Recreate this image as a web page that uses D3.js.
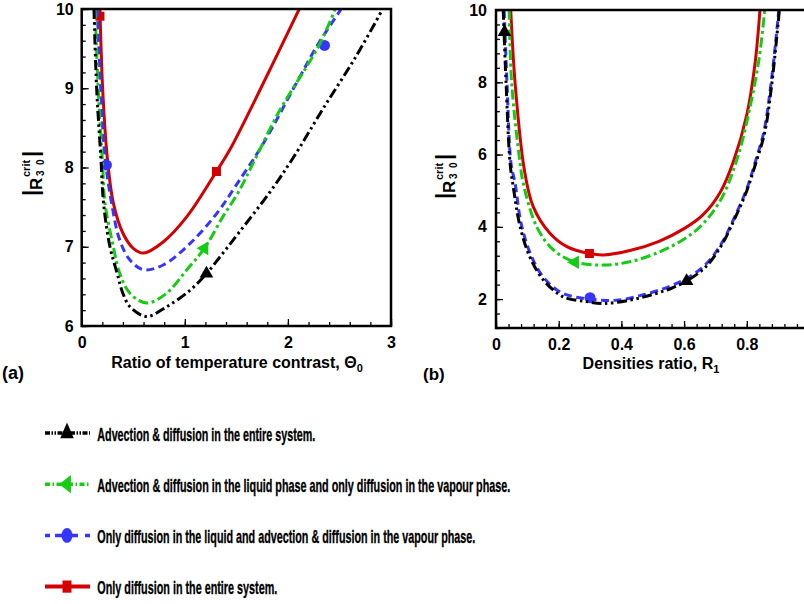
<!DOCTYPE html>
<html>
<head>
<meta charset="utf-8">
<script src="https://cdnjs.cloudflare.com/ajax/libs/d3/7.8.5/d3.min.js"></script>
<style>
  body { margin: 0; background: #fff; }
  svg { display: block; font-family: "Liberation Sans", Arial, sans-serif; font-weight: bold; }
  .leg text { font-family: "Liberation Sans Narrow", "Arial Narrow", "Liberation Sans", sans-serif; }
</style>
</head>
<body>
<div id="main"></div>
<script>

// ---- panel (a): |R30 crit| against theta0 ----
var blackA = [[0.119,10],[0.145,9.0],[0.187,8.1],[0.212,7.55],[0.274,7.0],[0.345,6.66],[0.40,6.41],[0.47,6.24],[0.63,6.12],[0.82,6.24],[1.05,6.45],[1.21,6.66],[1.37,6.92],[1.52,7.17],[1.82,7.68],[2.05,8.12],[2.34,8.74],[2.66,9.4],[2.92,10]];
var greenA = [[0.129,10],[0.16,9.0],[0.203,8.03],[0.226,7.55],[0.307,7.0],[0.37,6.66],[0.47,6.41],[0.63,6.29],[0.82,6.41],[1.02,6.71],[1.19,6.98],[1.37,7.38],[1.52,7.69],[1.68,8.1],[1.92,8.72],[2.18,9.27],[2.31,9.56],[2.46,10]];
var blueA = [[0.151,10],[0.184,9.0],[0.226,8.13],[0.29,7.55],[0.37,7.08],[0.47,6.83],[0.60,6.71],[0.79,6.77],[1.05,7.04],[1.31,7.42],[1.50,7.78],[1.76,8.30],[2.08,9.06],[2.29,9.55],[2.517,10]];
var redA = [[0.177,10],[0.203,9.0],[0.25,8.1],[0.307,7.55],[0.40,7.17],[0.50,6.98],[0.60,6.92],[0.79,7.06],[1.02,7.38],[1.307,7.95],[1.435,8.22],[1.76,9.06],[2.11,10]];

var blackMarksA = [[1.21,6.66]];
var greenMarksA = [[1.19,6.98]];
var blueMarksA = [[0.24,8.03],[2.355,9.54]];
var redMarksA = [[0.177,9.91],[1.307,7.95]];

// ---- panel (b): |R30 crit| against R1 ----
var blackB = [[0.023,10],[0.032,8.0],[0.045,5.75],[0.055,5.11],[0.077,4.0],[0.108,3.17],[0.151,2.53],[0.215,2.06],[0.289,1.93],[0.342,1.88],[0.427,1.97],[0.50,2.13],[0.56,2.3],[0.608,2.5],[0.67,2.9],[0.72,3.5],[0.76,4.2],[0.80,5.0],[0.83,5.8],[0.857,6.6],[0.879,7.9],[0.895,9.2],[0.904,10]];
var greenB = [[0.042,10],[0.05,7.97],[0.077,5.75],[0.087,5.2],[0.13,4.0],[0.183,3.36],[0.252,3.03],[0.342,2.94],[0.43,3.04],[0.52,3.3],[0.60,3.66],[0.66,4.08],[0.72,4.8],[0.77,5.9],[0.81,7.3],[0.84,8.7],[0.857,10]];
var blueB = [[0.026,10],[0.035,8.0],[0.048,5.75],[0.061,5.2],[0.08,4.1],[0.11,3.25],[0.15,2.62],[0.21,2.17],[0.30,2.0],[0.385,1.97],[0.47,2.12],[0.55,2.34],[0.61,2.58],[0.67,2.97],[0.72,3.55],[0.76,4.25],[0.80,5.05],[0.829,5.85],[0.855,6.65],[0.877,7.95],[0.893,9.2],[0.902,10]];
var redB = [[0.047,10],[0.061,7.97],[0.09,5.6],[0.119,4.55],[0.172,3.82],[0.226,3.45],[0.298,3.26],[0.342,3.22],[0.43,3.35],[0.52,3.6],[0.60,3.95],[0.66,4.33],[0.715,4.95],[0.757,5.8],[0.80,7.1],[0.826,8.5],[0.842,10]];

var blackMarksB = [[0.027,9.39],[0.608,2.5]];
var greenMarksB = [[0.252,3.02]];
var blueMarksB = [[0.30,2.04]];
var redMarksB = [[0.298,3.26]];

// tick values
var xTicksA = [0, 1, 2, 3];
var yTicksA = [6, 7, 8, 9, 10];
var xTicksB = [0, 0.2, 0.4, 0.6, 0.8, 1];
var yTicksB = [2, 4, 6, 8, 10];

var legendLabels = [
  "Advection & diffusion in the entire system.",
  "Advection & diffusion in the liquid phase and only diffusion in the vapour phase.",
  "Only diffusion in the liquid and advection & diffusion in the vapour phase.",
  "Only diffusion in the entire system."
];
var legendKeys = ["black", "green", "blue", "red"];

// styles live here, not in the data
var styles = {
  black: {color: "#000000", dash: "10,3.5,2.5,3.5,2.5,3.5", legDash: "5,1.5,1.5,1.5,1.5,1.5", sym: d3.symbolTriangle, size: 80, rot: 0},
  green: {color: "#14cc14", dash: "10,3.5,3,3.5", legDash: "5,2.5,1.5,2.5", sym: d3.symbolTriangle, size: 80, rot: -90},
  blue:  {color: "#3535ff", dash: "8,4.5", legDash: "5,5,23,7,5", sym: d3.symbolCircle, size: 95, rot: 0},
  red:   {color: "#d40000", dash: null, legDash: null, sym: d3.symbolSquare, size: 81, rot: 0}
};

var w = 804;
var h = 604;

var svg = d3.select("#main").append("svg")
    .attr("width", w)
    .attr("height", h);

svg.append("rect").attr("width", w).attr("height", h).attr("fill", "#fff");

var fmt = function(d) { return String(+d.toFixed(2)); };

function drawPanel(p) {
  var x = d3.scaleLinear().domain(p.xDomain).range(p.xRange);
  var y = d3.scaleLinear().domain(p.yDomain).range(p.yRange);

  svg.append("clipPath").attr("id", "clip" + p.id)
    .append("rect")
      .attr("x", p.xRange[0]).attr("y", p.yRange[1])
      .attr("width", p.xRange[1] - p.xRange[0])
      .attr("height", p.yRange[0] - p.yRange[1]);

  // minor ticks (inward)
  svg.append("g")
      .attr("transform", "translate(0," + p.yRange[0] + ")")
      .call(d3.axisBottom(x).tickValues(p.xMinor).tickSize(-4).tickFormat(""))
      .call(function(g) { g.select(".domain").remove(); });
  svg.append("g")
      .attr("transform", "translate(" + p.xRange[0] + ",0)")
      .call(d3.axisLeft(y).tickValues(p.yMinor).tickSize(-4).tickFormat(""))
      .call(function(g) { g.select(".domain").remove(); });

  // major ticks + labels
  var xa = svg.append("g")
      .attr("transform", "translate(0," + p.yRange[0] + ")")
      .call(d3.axisBottom(x).tickValues(p.xTicks).tickSize(-7).tickPadding(11).tickFormat(fmt));
  var ya = svg.append("g")
      .attr("transform", "translate(" + p.xRange[0] + ",0)")
      .call(d3.axisLeft(y).tickValues(p.yTicks).tickSize(-7).tickPadding(p.yPad).tickFormat(fmt));
  [xa, ya].forEach(function(a) {
    a.select(".domain").remove();
    a.attr("font-family", null).attr("font-size", null);
    a.selectAll("text").style("font-size", "16px").attr("fill", "#000");
  });
  svg.selectAll(".tick line").attr("stroke", "#000").attr("stroke-width", 1.3);

  // centripetal catmull-rom keeps the steep branches smooth
  var line = d3.line()
      .x(function(d) { return x(d[0]); })
      .y(function(d) { return y(d[1]); })
      .curve(d3.curveCatmullRom.alpha(0.5));

  var plot = svg.append("g").attr("clip-path", "url(#clip" + p.id + ")");

  p.series.forEach(function(s) {
    var st = styles[s.key];
    plot.append("path")
        .datum(s.data)
        .attr("d", line)
        .attr("fill", "none")
        .attr("stroke", st.color)
        .attr("stroke-width", 3)
        .attr("stroke-dasharray", st.dash);
    plot.selectAll(null)
        .data(s.marks)
        .enter()
        .append("path")
        .attr("d", d3.symbol().type(st.sym).size(st.size))
        .attr("transform", function(d) {
          return "translate(" + x(d[0]) + "," + y(d[1]) + ") rotate(" + st.rot + ")";
        })
        .attr("fill", st.color);
  });

  // box frame
  svg.append("rect")
      .attr("x", p.xRange[0]).attr("y", p.yRange[1])
      .attr("width", p.xRange[1] - p.xRange[0])
      .attr("height", p.yRange[0] - p.yRange[1])
      .attr("fill", "none")
      .attr("stroke", "#000")
      .attr("stroke-width", 2.5);
}

// |R^crit_30| label, rotated
function yLabel(gx, gy) {
  var g = svg.append("g").attr("transform", "translate(" + gx + "," + gy + ") rotate(-90)");
  g.append("text").attr("x", -26).attr("y", 38).style("font-size", "22px").text("|");
  g.append("text").attr("x", -20).attr("y", 42).style("font-size", "17px").text("R");
  g.append("text").attr("x", -7).attr("y", 30).style("font-size", "11px").text("crit");
  g.append("text").attr("x", -6).attr("y", 44).style("font-size", "10px").text("3\u00a0\u00a00");
  g.append("text").attr("x", 13).attr("y", 38).style("font-size", "22px").text("|");
}

drawPanel({
  id: "a",
  xDomain: [0, 3], xRange: [81.7, 391],
  yDomain: [6, 10], yRange: [326, 9],
  xTicks: xTicksA, yTicks: yTicksA,
  xMinor: d3.range(0, 3.01, 0.2), yMinor: d3.range(6, 10.01, 0.2),
  yPad: 8,
  series: [
    {key: "red", data: redA, marks: redMarksA},
    {key: "blue", data: blueA, marks: blueMarksA},
    {key: "green", data: greenA, marks: greenMarksA},
    {key: "black", data: blackA, marks: blackMarksA}
  ]
});

drawPanel({
  id: "b",
  xDomain: [0, 1], xRange: [496, 809.5],
  yDomain: [1.2, 10], yRange: [328, 10],
  xTicks: xTicksB, yTicks: yTicksB,
  xMinor: d3.range(0, 1.001, 0.04), yMinor: d3.range(1.2, 10.01, 0.4),
  yPad: 9,
  series: [
    {key: "red", data: redB, marks: redMarksB},
    {key: "blue", data: blueB, marks: blueMarksB},
    {key: "green", data: greenB, marks: greenMarksB},
    {key: "black", data: blackB, marks: blackMarksB}
  ]
});

yLabel(0, 170);
yLabel(413, 173);

// axis titles
var t1 = svg.append("text").attr("x", 237).attr("y", 368).attr("text-anchor", "middle").style("font-size", "16px");
t1.append("tspan").text("Ratio of temperature contrast, \u0398");
t1.append("tspan").attr("dy", 4).style("font-size", "11px").text("0");

var t2 = svg.append("text").attr("x", 651).attr("y", 369).attr("text-anchor", "middle").style("font-size", "16px");
t2.append("tspan").text("Densities ratio, R");
t2.append("tspan").attr("dy", 4).style("font-size", "11px").text("1");

svg.append("text").attr("x", 2).attr("y", 379).style("font-size", "18px").text("(a)");
svg.append("text").attr("x", 423).attr("y", 380).style("font-size", "17px").text("(b)");

// legend
var legendWidths = [218, 413, 378, 180];
var leg = svg.selectAll(".leg")
    .data(legendKeys)
    .enter()
    .append("g")
    .attr("class", "leg")
    .attr("transform", function(d, i) { return "translate(0," + (433 + i * 51.2) + ")"; });

leg.append("line")
    .attr("x1", 45).attr("x2", 90)
    .attr("stroke", function(d) { return styles[d].color; })
    .attr("stroke-width", function(d) { return d === "red" ? 4 : 3.5; })
    .attr("stroke-dasharray", function(d) { return styles[d].legDash; });

leg.append("path")
    .attr("d", function(d) { return d3.symbol().type(styles[d].sym).size(styles[d].size)(); })
    .attr("transform", function(d) { return "translate(67,0) scale(1,1.35) rotate(" + styles[d].rot + ")"; })
    .attr("fill", function(d) { return styles[d].color; });

leg.append("text")
    .attr("x", 97.3)
    .attr("y", 7.5)
    .style("font-size", "19px")
    .attr("stroke", "#000")
    .attr("stroke-width", 0.35)
    .attr("textLength", function(d, i) { return legendWidths[i]; })
    .attr("lengthAdjust", "spacingAndGlyphs")
    .text(function(d, i) { return legendLabels[i]; });

</script>
</body>
</html>
